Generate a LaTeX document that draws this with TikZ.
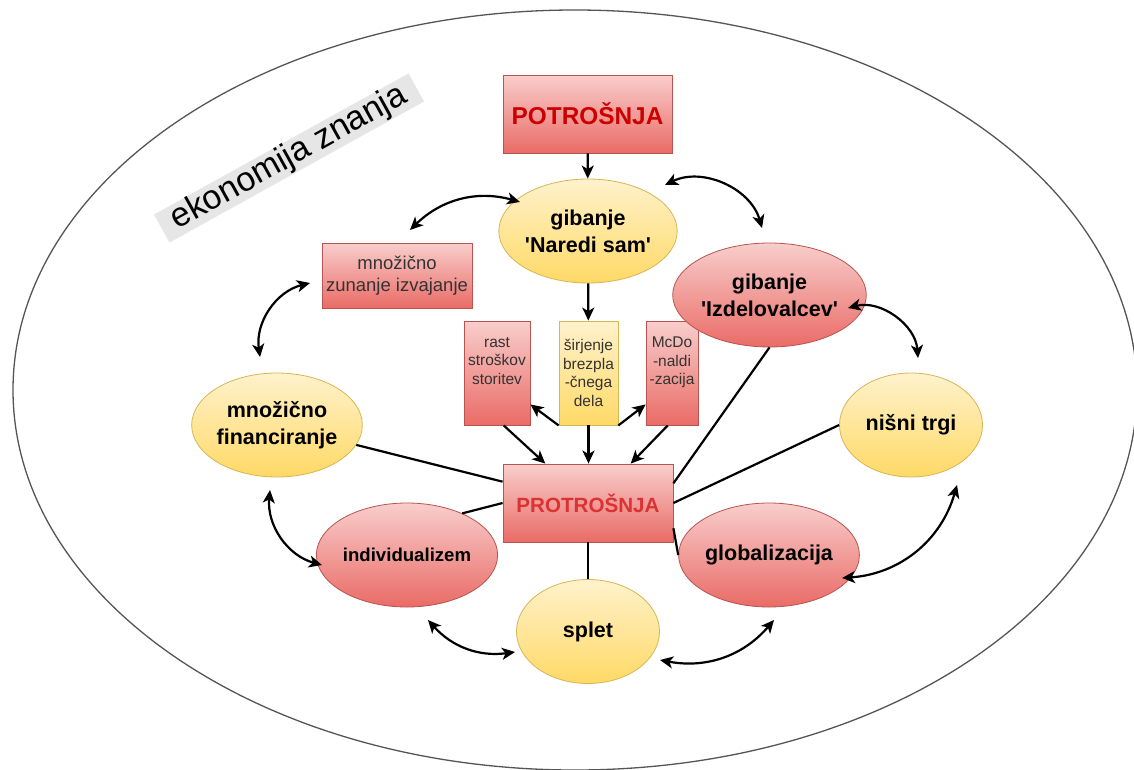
\documentclass[tikz,border=0pt]{standalone}
\usepackage{fontspec}
\setmainfont{Liberation Sans}
\usetikzlibrary{shapes.geometric,arrows.meta,calc}
\definecolor{redfill}{HTML}{F8CECC}
\definecolor{redgrad}{HTML}{EA6B66}
\definecolor{redline}{HTML}{B85450}
\definecolor{yelfill}{HTML}{FFF2CC}
\definecolor{yelgrad}{HTML}{FFD966}
\definecolor{yelline}{HTML}{D6B656}
\definecolor{titlered}{HTML}{CC0000}
\definecolor{titleredb}{HTML}{D93333}
\definecolor{darktext}{HTML}{333333}
\definecolor{labelgray}{HTML}{E6E6E6}
\definecolor{outlinegray}{HTML}{555555}
\begin{document}
\begin{tikzpicture}[x=1pt,y=1pt,
  ellbase/.style={ellipse, minimum width=143pt, minimum height=104pt, inner sep=0pt, align=center, line width=0.8pt,
    font=\fontsize{21.5}{27}\selectfont\bfseries, text=black},
  redell/.style={ellbase, draw=redline, top color=redfill, bottom color=redgrad},
  yelell/.style={ellbase, draw=yelline, top color=yelfill, bottom color=yelgrad},
  redbox/.style={rectangle, draw=redline, top color=redfill, bottom color=redgrad, inner sep=0pt, align=center, line width=0.8pt},
  yelbox/.style={rectangle, draw=yelline, top color=yelfill, bottom color=yelgrad, inner sep=0pt, align=center, line width=0.8pt},
  smalltxt/.style={font=\fontsize{15.5}{18.5}\selectfont, text=darktext},
  link/.style={line width=2.2pt, black},
  arr/.style={link, -{Stealth[length=13pt,width=12pt,inset=3.5pt]}},
  darr/.style={link, {Stealth[length=13pt,width=12pt,inset=3.5pt]}-{Stealth[length=13pt,width=12pt,inset=3.5pt]}},
]
\useasboundingbox (0,0) rectangle (1134,-769);
\fill[white] (0,0) rectangle (1134,-769);

% outer ellipse
\draw[outlinegray, line width=1.3pt] (575,-390) ellipse [x radius=562, y radius=380];

% label
\node[fill=labelgray, rotate=29, minimum width=291pt, minimum height=32pt, inner sep=0pt,
  font=\fontsize{34}{34}\selectfont] (ekon) at (289,-158) {ekonomija znanja};

% nodes
\node[redbox, minimum width=169pt, minimum height=78pt, font=\fontsize{24.4}{28}\selectfont\bfseries, text=titlered]
  (potr) at (587.5,-114) {POTROŠNJA};
\node[yelell] (naredi) at (588,-231) {gibanje\\\textquotesingle Naredi sam\textquotesingle};
\node[redbox, minimum width=150pt, minimum height=65pt, font=\fontsize{18.5}{22}\selectfont, text=darktext]
  (zun) at (397,-275.5) {množično\\zunanje izvajanje};
\node[redbox, smalltxt, minimum width=66pt, minimum height=104pt] (rast) at (497,-373) {rast\\stroškov\\storitev\\[6pt]};
\node[yelbox, smalltxt, minimum width=59pt, minimum height=104pt] (sir) at (588.5,-373) {širjenje\\brezpla\\-čnega\\dela};
\node[redbox, smalltxt, minimum width=52pt, minimum height=104pt] (mcdo) at (672,-373) {McDo\\-naldi\\-zacija\\[6pt]};
\node[redell] (izd) at (769.5,-295) {gibanje\\\textquotesingle Izdelovalcev\textquotesingle};
\node[yelell] (nis) at (911,-425) {nišni trgi};
\node[yelell] (fin) at (277,-425) {množično\\financiranje};
\node[redbox, minimum width=170pt, minimum height=78pt, font=\fontsize{20.6}{24}\selectfont\bfseries, text=titleredb]
  (protr) at (588,-503) {PROTROŠNJA};
\node[redell, font=\fontsize{18.6}{22}\selectfont\bfseries] (ind) at (407,-555) {individualizem};
\node[redell] (glob) at (769,-555) {globalizacija};
\node[yelell] (splet) at (588,-631.5) {splet};

% straight arrows
\draw[arr] (potr) -- (naredi);
\draw[arr] (naredi) -- (sir);
\draw[arr] ($(rast.south west)!0.6!(rast.south east)$) -- ($(protr.north west)!0.25!(protr.north east)$);
\draw[arr] (sir.south) -- (sir.south |- protr.north);
\draw[arr] ($(mcdo.south west)!0.42!(mcdo.south east)$) -- ($(protr.north west)!0.75!(protr.north east)$);
\draw[arr] (sir.south west) -- ($(rast.north east)!0.8!(rast.south east)$);
\draw[arr] (sir.south east) -- ($(mcdo.north west)!0.8!(mcdo.south west)$);

% plain lines
\draw[link] (fin) -- (protr);
\draw[link] (ind.37) -- (protr.west);
\draw[link] (protr) -- (splet);
\draw[link] ($(protr.north east)!0.82!(protr.south east)$) -- (glob.west);
\draw[link] (protr.east) -- (nis.west);
\draw[link] ($(protr.north east)!0.25!(protr.south east)$) -- (izd.south);

% curved double arrows
\coordinate (a1s) at (410,-230); \coordinate (a1e) at (520,-202);
\coordinate (a2s) at (665,-185); \coordinate (a2e) at (762,-228);
\coordinate (a3s) at (848,-308); \coordinate (a3e) at (918,-358);
\coordinate (a4s) at (310,-283); \coordinate (a4e) at (260,-357);
\coordinate (a5s) at (270,-490); \coordinate (a5e) at (322,-565);
\coordinate (a6s) at (428,-620); \coordinate (a6e) at (515,-652);
\coordinate (a7s) at (660,-660); \coordinate (a7e) at (774,-620);
\coordinate (a8s) at (842,-578); \coordinate (a8e) at (957,-485);
\draw[darr] (a1s) to[bend left=30] (a1e);
\draw[darr] (a2s) to[bend left=50] (a2e);
\draw[darr] (a3s) to[bend left=50] (a3e);
\draw[darr] (a4s) to[bend right=42] (a4e);
\draw[darr] (a5s) to[bend right=40] (a5e);
\draw[darr] (a6s) to[bend right=28] (a6e);
\draw[darr] (a7s) to[bend right=30] (a7e);
\draw[darr] (a8s) to[bend right=35] (a8e);
\end{tikzpicture}
\end{document}
